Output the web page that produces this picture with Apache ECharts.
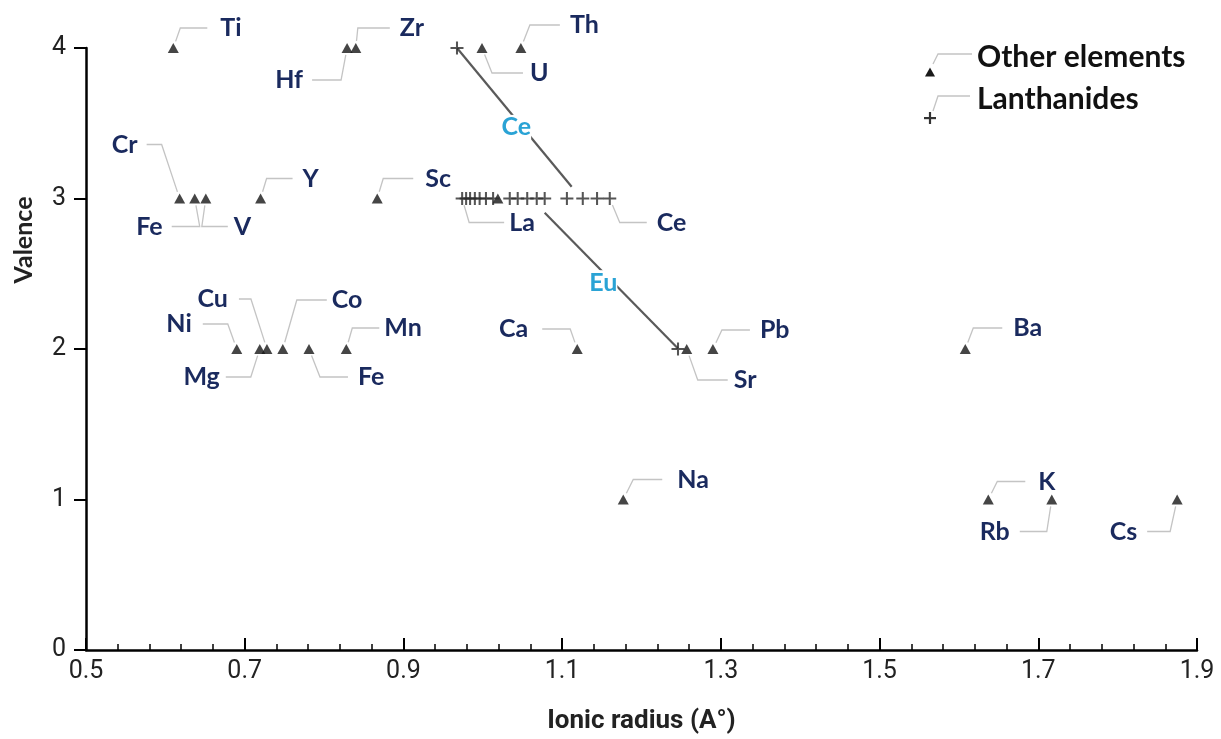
<!DOCTYPE html>
<html><head><meta charset="utf-8">
<script src="https://cdn.jsdelivr.net/npm/echarts@6/dist/echarts.min.js"></script>
<style>html,body{margin:0;padding:0;background:#fff}#c{width:1221px;height:739px}</style>
</head><body><div id="c"></div>
<script>
// ---------- data ----------
const xTicks = [0.5, 0.7, 0.9, 1.1, 1.3, 1.5, 1.7, 1.9];
const yTicks = [0, 1, 2, 3, 4];
const otherNames   = ['Ti','Hf','Zr','U','Th','Cr','Fe','V','Y','Sc','','Ni','Mg','Cu','Co','Fe','Mn','Ca','Sr','Pb','Ba','Na','K','Rb','Cs'];
const otherRadius  = [0.610,0.829,0.840,0.999,1.048,0.618,0.637,0.651,0.720,0.867,1.019,0.690,0.719,0.728,0.748,0.781,0.828,1.119,1.257,1.290,1.608,1.177,1.637,1.717,1.875];
const otherValence = [4,4,4,4,4,3,3,3,3,3,3,2,2,2,2,2,2,2,2,2,2,1,1,1,1];
const lanthNames   = ['','La','','','','','','','','','','','','','','','Ce',''];
const lanthRadius  = [0.9675,0.974,0.979,0.984,0.990,0.996,1.004,1.013,1.034,1.044,1.056,1.068,1.078,1.106,1.126,1.144,1.160,1.246];
const lanthValence = [4,3,3,3,3,3,3,3,3,3,3,3,3,3,3,3,3,2];
// redox arrows: Ce(4+ -> 3+) and Eu(3+ -> 2+)
const arrowNames = ['Ce','Eu'];
const arrowFrom  = [[0.9675, 4.0], [1.078, 2.905]];
const arrowTo    = [[1.112, 3.078], [1.246, 2.003]];

// ---------- label layout (pixels, relative to point): [dy, elbowDx, lineEndDx, textDx] ----------
const otherLabelLayout = [
  [-20,7,34,47],[32,-6,-35,-44],[-20,2,34,44],[25,10,41,48],[-23,9,39,49],
  [-54,-18,-33,-42],[28,5,-23,-32],[28,-4,22,28],[-20,6,32,42],[-20,6,36,48],null,
  [-25,-9,-34,-45],[28,-9,-34,-40],[-50,-16,-28,-39],[-49,14,44,49],[28,11,39,49],[-21,6,33,38],
  [-20,-7,-35,-49],[31,11,41,47],[-19,9,37,47],[-21,8,37,48],
  [-20,10,39,54],[-18,9,37,50],[32,-5,-32,-42],[32,-7,-30,-40]
];
const lanthLabelLayout = {1:[24,7,42,47], 16:[24,10,37,47]};
const arrowLabelOffset = [[2,10],[-8,2]];

const NAVY = '#1a2a5e', CYAN = '#2aa3d5', LEAD = '#c4c4c4';
const LABEL_FONT = 'Lato, "Open Sans", sans-serif';
const AXIS_FONT = 'Roboto, Lato, sans-serif';

const labelItems = [];
otherNames.forEach((n,i)=>{ if(n) labelItems.push({name:n, x:otherRadius[i], y:otherValence[i], lay:otherLabelLayout[i]}); });
lanthNames.forEach((n,i)=>{ if(n) labelItems.push({name:n, x:lanthRadius[i], y:lanthValence[i], lay:lanthLabelLayout[i]}); });

const plusPath = 'path://M5.9,0h2.2v5.9h5.9v2.2h-5.9v5.9h-2.2v-5.9h-5.9v-2.2h5.9z';

function renderLabel(params, api){
  const it = labelItems[params.dataIndex];
  const L = it.lay;
  const p = api.coord([api.value(0), api.value(1)]);
  const e = [p[0]+L[1], p[1]+L[0]];
  const l = [p[0]+L[2], p[1]+L[0]];
  const dx = e[0]-p[0], dy = e[1]-p[1], d = Math.hypot(dx,dy)||1;
  const s = [p[0]+dx/d*7, p[1]+dy/d*7];
  return {type:'group', children:[
    {type:'polyline', shape:{points:[s,e,l]}, style:{stroke:LEAD, lineWidth:1.3, fill:null}, silent:true},
    {type:'text', x:p[0]+L[3], y:p[1]+L[0], style:{text:it.name, fill:NAVY, fontSize:25, fontWeight:'bold', fontFamily:LABEL_FONT, align:L[3]>0?'left':'right', verticalAlign:'middle'}}
  ]};
}
function renderArrow(params, api){
  const i = params.dataIndex;
  const a = api.coord([api.value(0), api.value(1)]);
  const b = api.coord([api.value(2), api.value(3)]);
  const o = arrowLabelOffset[i];
  return {type:'group', children:[
    {type:'line', shape:{x1:a[0],y1:a[1],x2:b[0],y2:b[1]}, style:{stroke:'#5a5a5a', lineWidth:2.2}},
    {type:'text', x:(a[0]+b[0])/2+o[0], y:(a[1]+b[1])/2+o[1], style:{text:arrowNames[i], fill:CYAN, fontSize:25, fontWeight:'bold', fontFamily:LABEL_FONT, align:'center', verticalAlign:'middle', backgroundColor:'#fff'}}
  ]};
}

const chart = echarts.init(document.getElementById('c'));
chart.setOption({
  backgroundColor:'#fff',
  animation:false,
  grid:{left:86, right:24, top:48, bottom:88, containLabel:false},
  xAxis:{type:'value', min:xTicks[0], max:xTicks[xTicks.length-1], interval:0.2,
    axisLine:{onZero:false, lineStyle:{color:'#000', width:2.5}},
    axisTick:{show:true, inside:true, length:12, lineStyle:{color:'#000', width:2}},
    minorTick:{show:true, splitNumber:5, length:6, lineStyle:{color:'#000', width:1.5}},
    splitLine:{show:false},
    axisLabel:{fontSize:25, color:'#222', margin:9, fontFamily:AXIS_FONT, formatter:v=>String(+(+v).toFixed(1))},
    name:'Ionic radius (A°)', nameLocation:'middle', nameGap:58,
    nameTextStyle:{fontSize:26, fontWeight:'bold', color:'#222', fontFamily:AXIS_FONT}
  },
  yAxis:{type:'value', min:yTicks[0], max:yTicks[yTicks.length-1], interval:1,
    axisLine:{show:true, lineStyle:{color:'#000', width:2.5}},
    axisTick:{show:true, inside:false, length:12, lineStyle:{color:'#000', width:2}},
    splitLine:{show:false},
    axisLabel:{fontSize:25, color:'#222', margin:20, fontFamily:AXIS_FONT}
  },
  graphic:[
    {type:'text', x:24, y:240, rotation:Math.PI/2, style:{text:'Valence', fontSize:25, fontWeight:'bold', fill:'#222', fontFamily:LABEL_FONT, align:'center', verticalAlign:'middle'}},
    // legend
    {type:'polygon', shape:{points:[[925,76.5],[935,76.5],[930,67.5]]}, style:{fill:'#1a1a1a'}},
    {type:'polyline', shape:{points:[[933,64],[938,54],[972,54]]}, style:{stroke:LEAD, lineWidth:1.3, fill:null}},
    {type:'text', x:977, y:57, style:{text:'Other elements', fontSize:30, fontWeight:'bold', fill:'#111', fontFamily:LABEL_FONT, align:'left', verticalAlign:'middle'}},
    {type:'rect', shape:{x:924, y:117, width:12, height:2.2}, style:{fill:'#333'}},
    {type:'rect', shape:{x:928.9, y:112, width:2.2, height:12}, style:{fill:'#333'}},
    {type:'polyline', shape:{points:[[933,111],[938,96],[970,96]]}, style:{stroke:LEAD, lineWidth:1.3, fill:null}},
    {type:'text', x:977, y:99, style:{text:'Lanthanides', fontSize:30, fontWeight:'bold', fill:'#111', fontFamily:LABEL_FONT, align:'left', verticalAlign:'middle'}}
  ],
  series:[
    {type:'custom', name:'arrows', coordinateSystem:'cartesian2d', clip:false, z:1,
      encode:{x:[0,2], y:[1,3]},
      data: arrowNames.map((n,i)=>[arrowFrom[i][0], arrowFrom[i][1], arrowTo[i][0], arrowTo[i][1]]),
      renderItem: renderArrow},
    {type:'scatter', name:'Other elements', symbol:'triangle', symbolSize:[11,10], z:3,
      itemStyle:{color:'#161616'},
      data: otherRadius.map((x,i)=>[x, otherValence[i]])},
    {type:'scatter', name:'Lanthanides', symbol:plusPath, symbolSize:13, z:3,
      itemStyle:{color:'#2a2a2a'},
      data: lanthRadius.map((x,i)=>[x, lanthValence[i]])},
    {type:'custom', name:'labels', coordinateSystem:'cartesian2d', clip:false, z:4,
      data: labelItems.map(it=>[it.x, it.y]),
      renderItem: renderLabel}
  ]
});
</script></body></html>
